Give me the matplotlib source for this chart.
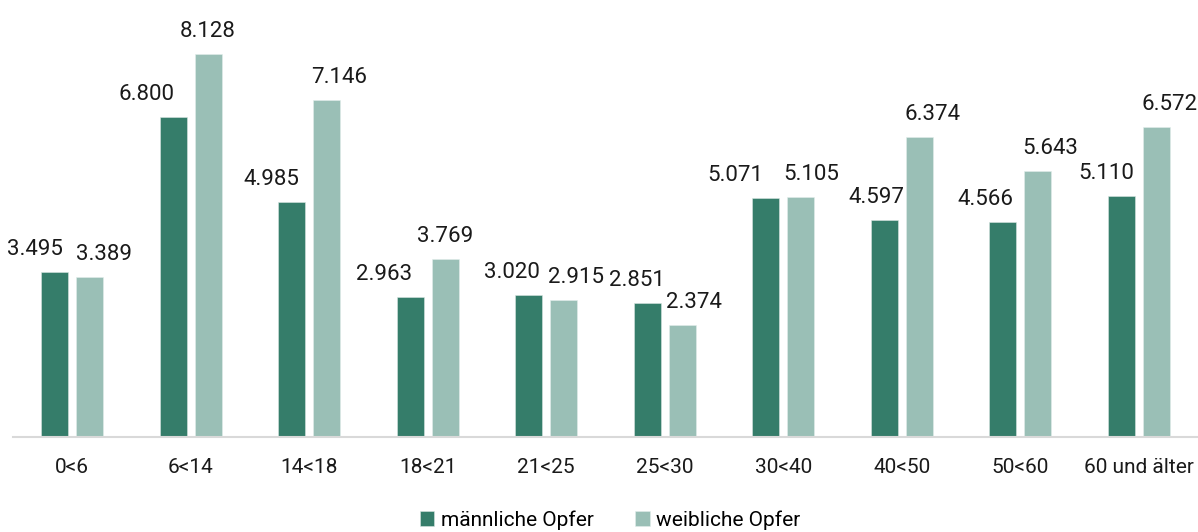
import numpy as np
import matplotlib.pyplot as plt

plt.rcParams['font.family'] = ['Roboto', 'DejaVu Sans']

# data
age_groups = ['0<6', '6<14', '14<18', '18<21', '21<25', '25<30',
              '30<40', '40<50', '50<60', '60 und älter']
male = [3495, 6800, 4985, 2963, 3020, 2851, 5071, 4597, 4566, 5110]
female = [3389, 8128, 7146, 3769, 2915, 2374, 5105, 6374, 5643, 6572]
male_lbl = ['3.495', '6.800', '4.985', '2.963', '3.020', '2.851',
            '5.071', '4.597', '4.566', '5.110']
female_lbl = ['3.389', '8.128', '7.146', '3.769', '2.915', '2.374',
              '5.105', '6.374', '5.643', '6.572']

# horizontal shifts of the value labels (pixels), as placed in the original
male_dx = [-20, -27, -21, -26, -17, -11, -31, -8, -18, -15]
female_dx = [14, 0, 13, 0, 12, 12, 11, 13, 13, 14]

c_male = '#357d6a'
c_female = '#9abfb6'

fig = plt.figure(figsize=(11.98, 5.32), dpi=100)
ax = fig.add_axes([13 / 1198, (532 - 437) / 532, 1 - 13 / 1198, (437 - 5) / 532])

x = np.arange(len(age_groups))
w = 0.228
off = 0.146
b1 = ax.bar(x - off, male, w, color=c_male, label='männliche Opfer',
            edgecolor='#d8e6e2', linewidth=0.4)
b2 = ax.bar(x + off, female, w, color=c_female, label='weibliche Opfer',
            edgecolor='#e3eeeb', linewidth=0.4)

for i in range(len(x)):
    ax.annotate(male_lbl[i], (x[i] - off, male[i]), xytext=(male_dx[i], 17),
                textcoords='offset pixels', ha='center', va='baseline',
                fontsize=16, color='#1a1a1a')
    ax.annotate(female_lbl[i], (x[i] + off, female[i]), xytext=(female_dx[i], 17),
                textcoords='offset pixels', ha='center', va='baseline',
                fontsize=16, color='#1a1a1a')

ax.set_xlim(-0.5, len(x) - 0.5)
ax.set_ylim(0, 9170)
ax.set_xticks(x)
ax.set_xticklabels(age_groups, fontsize=15, color='#1a1a1a')
ax.tick_params(axis='x', length=0, pad=15)
ax.set_yticks([])
for s in ['top', 'right', 'left']:
    ax.spines[s].set_visible(False)
ax.spines['bottom'].set_color('#d9d9d9')
ax.spines['bottom'].set_linewidth(1.5)

fig.legend(handles=[b1, b2], loc='center', bbox_to_anchor=(610 / 1198, 1 - 520 / 532),
           ncol=2, frameon=False, fontsize=15, handlelength=0.7, handleheight=0.7,
           handletextpad=0.3, columnspacing=2.0)

fig.savefig('out.png', dpi=100)
